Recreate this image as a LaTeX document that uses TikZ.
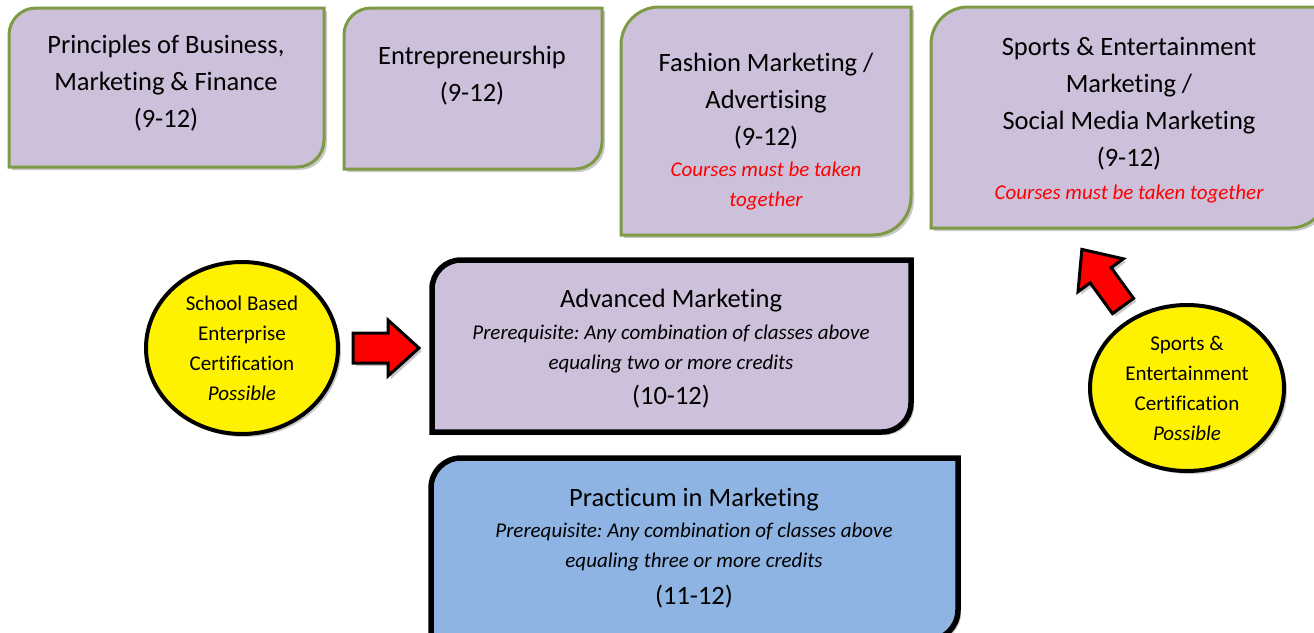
\documentclass[tikz,border=0pt]{standalone}
\usepackage{fontspec}
\setmainfont{Carlito}[Ligatures={NoCommon}]
\frenchspacing
\usetikzlibrary{shapes.geometric,shadows}
\definecolor{lav}{HTML}{CCC0DA}
\definecolor{olivex}{HTML}{7E9A45}
\definecolor{sky}{HTML}{8EB4E3}
\definecolor{redx}{HTML}{FF0000}
\tikzset{
 shad/.style={drop shadow={shadow xshift=3pt,shadow yshift=-3pt,opacity=0.3,fill=black!70}},
 course/.style={draw=olivex,line width=3pt,fill=lav,shad},
 adv/.style={draw=black,line width=5.5pt,fill=lav,shad},
 prac/.style={draw=black,line width=5.5pt,fill=sky,shad},
 big/.style={align=center,font=\fontsize{26.5}{37}\selectfont,inner sep=0pt},
 small/.style={align=center,font=\fontsize{21}{30}\selectfont\itshape,inner sep=0pt},
 note/.style={small,text=redx},
 cert/.style={ellipse,draw,line width=4pt,fill=yellow,align=center,font=\fontsize{21}{30}\selectfont,inner sep=0pt,shad},
 barrow/.style={draw=black,line width=3pt,fill=redx,shad},
}
\newcommand\dbox[7]{%
 \draw[#1] (#3,-#6) -- (#3,{-#4-#7}) arc[start angle=180,end angle=90,radius=#7] -- (#5,-#4) -- (#5,{-#6+#7}) arc[start angle=0,end angle=-90,radius=#7] -- cycle;
 \node[inner sep=0pt,minimum width={(#5-#3)*1pt},minimum height={(#6-#4)*1pt}] (#2) at ({(#3+#5)/2},{-(#4+#6)/2}) {};}
\begin{document}
\begin{tikzpicture}[x=1pt,y=1pt]
\useasboundingbox (0,0) rectangle (1314,-632);
\dbox{course}{pbm}{9}{8}{324}{167}{27}
\dbox{course}{ent}{344}{8}{602}{169}{27}
\dbox{course}{fas}{621}{7}{911}{235}{38}
\dbox{course}{sem}{931}{7}{1327}{228}{37}
\dbox{adv}{adv}{432}{260}{911}{432}{29}
\dbox{prac}{pra}{431}{458}{958}{640}{30}

\node[big] (pbmT) at (166,-83) {Principles of Business,\\Marketing \& Finance\\(9-12)};
\node[big] (entT) at (472,-76) {Entrepreneurship\\(9-12)};
\node[big] (fasT) at (766,-101) {Fashion Marketing /\\Advertising\\(9-12)};
\node[note] (fasN) at (766,-186.5) {Courses must be taken\\together};
\node[big] (semT) at (1129,-104) {Sports \& Entertainment\\Marketing /\\Social Media Marketing\\(9-12)};
\node[note] (semN) at (1129,-194) {Courses must be taken together};
\node[big] (advT) at (671,-300.5) {Advanced Marketing};
\node[small] (advP) at (671,-349) {Prerequisite: Any combination of classes above\\equaling two or more credits};
\node[big] (advG) at (671,-397) {(10-12)};
\node[big] (praT) at (694,-499.5) {Practicum in Marketing};
\node[small] (praP) at (694,-547) {Prerequisite: Any combination of classes above\\equaling three or more credits};
\node[big] (praG) at (694,-597) {(11-12)};

\node[cert,minimum width=192pt,minimum height=172pt] (sbe) at (242,-348) {School Based\\Enterprise\\Certification\\\textit{Possible}};
\node[cert,minimum width=194pt,minimum height=166pt] (sec) at (1187,-388) {Sports \&\\Entertainment\\Certification\\\textit{Possible}};

\draw[barrow,shift={(353,-348)}] (0,-15) -- (35,-15) -- (35,-28) -- (66,0) -- (35,28) -- (35,15) -- (0,15) -- cycle;
\draw[barrow,shift={(1123,-306)},rotate=126] (0,-13) -- (38,-13) -- (38,-28) -- (70,0) -- (38,28) -- (38,13) -- (0,13) -- cycle;
\end{tikzpicture}
\end{document}
